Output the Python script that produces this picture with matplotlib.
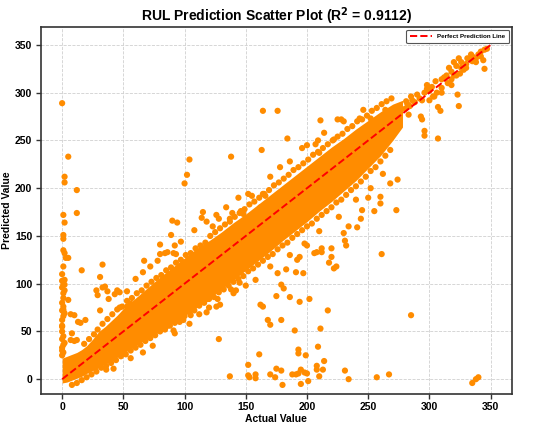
import matplotlib
matplotlib.use("Agg")
import matplotlib.pyplot as plt

plt.rcParams['font.family'] = ['Liberation Sans', 'DejaVu Sans']
plt.rcParams['font.weight'] = 'bold'

ORANGE = '#FF8C00'

# dense core of the cloud, read as lower / upper edge along the actual value
band_x = [0, 4, 8, 12, 16, 20, 25, 30, 35, 40, 45, 50, 60, 70, 80, 90, 100, 110, 120, 130,
          140, 150, 160, 170, 180, 190, 200, 210, 220, 230, 240, 250, 260, 270, 278]
band_lo = [-4, -3, -1, 1, 3, 6, 9, 12, 16, 19, 23, 27, 35, 43, 50, 59, 67, 75, 84, 94,
           104, 114, 124, 134, 145, 155, 165, 176, 186, 197, 208, 221, 234, 250, 264]
band_hi = [22, 24, 26, 28, 31, 35, 42, 50, 55, 61, 67, 74, 85, 96, 107, 117, 127, 137, 145, 154,
           164, 173, 183, 193, 203, 213, 223, 233, 243, 252, 262, 271, 280, 288, 292]

# upper ragged edge of the cloud
upper_actual = [18, 22, 26, 29, 33, 37, 41, 45, 49, 53, 57, 61, 65, 69, 73, 77, 81, 85, 89, 93,
                97, 101, 105, 109, 113, 117, 121, 125, 129, 133, 137, 141, 145, 149, 153, 157, 161,
                165, 169, 173, 177, 181, 185, 189, 193, 197, 201, 205, 209, 213, 217, 221, 225, 229,
                233, 237, 241, 245, 249, 253, 257, 261, 265, 269,
                60, 66, 72, 78, 86, 92, 108, 118, 126, 134, 144, 170, 178, 186, 200, 214, 230, 246]
upper_pred = [37, 42, 47, 52, 58, 63, 68, 73, 76, 82, 85, 90, 93, 98, 102, 106, 109, 114, 117, 122,
              125, 130, 132, 137, 140, 143, 150, 154, 158, 162, 165, 170, 174, 178, 183, 186, 190,
              194, 198, 203, 206, 210, 214, 219, 222, 226, 230, 235, 238, 242, 246, 250, 254, 257,
              262, 265, 270, 272, 276, 281, 284, 288, 291, 294,
              105, 112, 118, 124, 133, 140, 156, 165, 172, 180, 190, 212, 222, 228, 245, 258, 270, 282]

# lower ragged edge of the cloud
lower_actual = [8, 12, 16, 20, 24, 28, 32, 36, 40, 44, 48, 52, 56, 60, 64, 68, 72, 76, 80, 84,
                88, 92, 96, 100, 104, 108, 112, 116, 120, 124, 128, 132, 136, 140, 144, 148, 152,
                156, 160, 164, 168, 172, 176, 180, 184, 188, 192, 196, 200, 204, 208, 212, 216, 220,
                224, 228, 232, 236, 240, 244, 248, 252, 256, 260, 264, 268,
                56, 66, 74, 92, 104, 118, 126, 140, 150, 158, 170, 186, 198, 210, 226, 240, 252, 262]
lower_pred = [-6, -4, -1, 2, 5, 8, 12, 14, 17, 20, 24, 26, 30, 33, 36, 40, 43, 46, 50, 52,
              56, 59, 63, 66, 70, 72, 77, 80, 84, 86, 91, 94, 98, 102, 105, 108, 113,
              116, 120, 124, 128, 131, 136, 140, 143, 148, 152, 156, 160, 163, 168, 172, 176, 180,
              185, 188, 193, 198, 202, 207, 212, 218, 222, 228, 234, 240,
              22, 28, 35, 48, 58, 70, 76, 90, 98, 104, 118, 130, 142, 155, 170, 188, 200, 215]

# column of near-zero actual values and the sparse top of the cloud
column_actual = [0, 1, 2, 1, 0, 2, 0, 1, 0, 2, 0, 1, 0, 0, 1, 0, 0, 1, 0, 1, 0, 0, 1,
                 318, 322, 326, 331, 335, 338, 340, 342, 328, 312, 305, 300, 296, 292, 288, 284, 280,
                 276, 272, 275, 285, 298, 303, 310, 318, 345, 347, 344, 345, 330, 335, 325, 320, 315, 310,
                 282, 286, 290, 294, 298, 302, 306, 310, 314, 318, 322, 326, 330, 334, 338, 342, 300,
                 304, 316, 320, 324]
column_pred = [103, 99, 93, 76, 72, 69, 56, 45, 42, 38, 33, 28, 25, 30, 36, 50, 62, 66, 80, 85, 96, 110, 118,
               322, 328, 332, 336, 338, 332, 340, 343, 324, 316, 312, 302, 300, 294, 290, 286, 283,
               279, 276, 285, 296, 308, 296, 300, 308, 345, 346, 334, 325, 330, 333, 320, 318, 310, 305,
               288, 292, 298, 292, 304, 306, 300, 314, 318, 314, 318, 326, 326, 340, 336, 338, 292,
               296, 326, 332, 336]

# stray predictions far from the diagonal
stray_actual = [0, 5, 2, 2, 12, 12, 1, 2, 1, 1, 1, 2, 3, 5, 2, 2, 1, 1, 1, 0, 16, 33, 31, 35,
                5, 7, 10, 8, 7, 10, 12, 13, 15, 19, 28, 29, 33, 37, 31, 38, 43, 45, 47, 47, 53, 53, 56,
                36, 42,
                85, 91, 96, 99, 101, 105, 105, 111, 112, 113, 119, 120, 127, 129, 128, 138, 142, 145,
                137, 152, 152, 153, 158, 158, 161, 162, 164, 168, 170, 170, 175, 175, 174, 179, 181,
                179, 179, 180, 186, 190, 188, 191, 193, 195, 194, 193, 193, 195, 199, 198, 200, 201,
                202, 209, 208, 208, 210, 211, 214, 213, 217, 231, 234, 257, 267, 285, 335, 338, 340,
                104, 102, 100, 138, 163, 176, 164, 184, 115, 114, 90, 94, 89, 80, 97, 80, 84, 67, 91, 93,
                152, 155, 164, 166, 128, 137, 146, 148, 139, 158, 123, 162,
                196, 207, 210, 222, 225, 243, 238, 228, 211, 228, 209, 270,
                261, 273, 268, 260, 260, 255, 250, 245, 244, 241, 234, 230, 231, 232, 220, 220, 212,
                212, 218, 222, 224, 208, 200, 206, 191, 197, 183, 176, 194, 192, 274,
                324, 323, 307, 309, 307, 296, 296, 293, 294, 281, 283, 264, 252, 266]
stray_pred = [289, 233, 212, 206, 198, 174, 172, 164, 151, 147, 135, 132, 127, 127, 104, 99, 90, 73, 71, 55,
              114, 120, 107, 97,
              83, 68, 67, 48, 41, 40, 41, 60, 59, 62, 93, 88, 96, 92, 72, 84, 89, 93, 91, 75, 76, 92, 79,
              10, 11,
              55, 51, 60, 62, 77, 78, 67, 85, 68, 92, 84, 75, 84, 78, 42, 94, 93, 101,
              3, 15, 4, 2, 5, 1, 26, 78, 76, 62, 57, 5, 87, 11, 2, 99, 95,
              62, 9, -6, 86, 51, 5, 5, 6, 10, 81, 31, 27, -5, 25, 7, 6, -2,
              84, 34, 14, 10, 3, 53, 19, 10, 72, 9, 0, 2, 5, 67, -4, 0, 2,
              230, 214, 205, 233, 240, 281, 281, 252, 175, 169, 166, 164, 151, 141, 144, 131, 132, 124, 132, 131,
              194, 192, 194, 192, 168, 168, 176, 173, 174, 174, 160, 180,
              242, 246, 237, 251, 272, 273, 251, 239, 271, 272, 250, 275,
              131, 177, 205, 191, 184, 176, 190, 177, 168, 159, 160, 153, 145, 140, 137, 128, 137,
              133, 122, 116, 118, 133, 140, 132, 112, 111, 115, 111, 128, 125, 209,
              286, 298, 285, 281, 252, 260, 255, 275, 272, 291, 277, 282, 273, 263]

r2 = 0.9112
line_min, line_max = 0, 350

fig, ax = plt.subplots(figsize=(5.5, 4.32), dpi=100)
fig.subplots_adjust(left=0.074, right=0.931, bottom=0.088, top=0.938)

ax.set_axisbelow(True)
ax.grid(True, linestyle='--', color='#d0d0d0', linewidth=0.6)

ax.fill_between(band_x, band_lo, band_hi, color=ORANGE, linewidth=0, zorder=2)
for xs, ys in [(upper_actual, upper_pred), (lower_actual, lower_pred),
               (column_actual, column_pred), (stray_actual, stray_pred)]:
    ax.scatter(xs, ys, s=20, color=ORANGE, edgecolors='none', zorder=2)

ax.plot([line_min, line_max], [line_min, line_max], color='red', linestyle='--',
        linewidth=1.4, label='Perfect Prediction Line', zorder=3)

ax.set_xlim(-17.5, 367.5)
ax.set_ylim(-15.5, 369)
ax.set_xticks(range(0, 351, 50))
ax.set_yticks(range(0, 351, 50))
ax.tick_params(labelsize=7.5, width=1, length=3.5, color='#333333', pad=2.5)
for lab in ax.get_xticklabels() + ax.get_yticklabels():
    lab.set_fontweight('bold')

for sp in ax.spines.values():
    sp.set_color('#333333')
    sp.set_linewidth(1.2)

ax.set_title(f'RUL Prediction Scatter Plot (R$^2$ = {r2:.4f})', fontsize=10, fontweight='bold', pad=4)
ax.set_xlabel('Actual Value', fontsize=7.5, fontweight='bold', labelpad=1)
ax.set_ylabel('Predicted Value', fontsize=7.5, fontweight='bold', labelpad=2)

leg = ax.legend(loc='upper right', prop={'size': 4.5, 'weight': 'bold'}, framealpha=1,
                edgecolor='#555555', handlelength=3.5, borderpad=0.6)
leg.get_frame().set_linewidth(0.8)

fig.savefig('out.png', dpi=100)
